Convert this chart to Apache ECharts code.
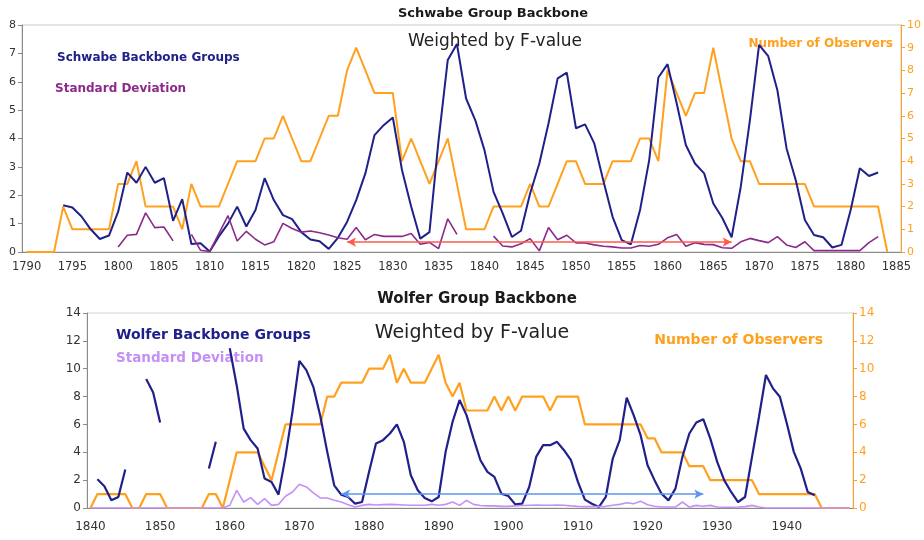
<!DOCTYPE html>
<html>
<head>
<meta charset="utf-8">
<title>Schwabe / Wolfer Group Backbone</title>
<script src="https://cdn.jsdelivr.net/npm/echarts@6/dist/echarts.min.js"></script>
<style>
	html, body { margin: 0; padding: 0; background: #fff; }
	#chart { width: 924px; height: 540px; }
</style>
</head>
<body>
<div id="chart"></div>
<script>
	// ---------- Schwabe (top panel), one value per year 1790..1885 ----------
	var schwabeYears = [];
	for (var y = 1790; y <= 1885; y++) schwabeYears.push(String(y));

	var schwabeGroups = [
		null, null, null, null, 1.65, 1.57, 1.25, 0.8, 0.46, 0.58,
		1.42, 2.8, 2.44, 3.0, 2.44, 2.6, 1.1, 1.86, 0.28, 0.31,
		0.02, 0.55, 1.0, 1.6, 0.9, 1.48, 2.6, 1.83, 1.3, 1.16,
		0.7, 0.44, 0.38, 0.11, 0.5, 1.06, 1.83, 2.77, 4.12, 4.47,
		4.74, 2.89, 1.6, 0.47, 0.7, 3.95, 6.77, 7.33, 5.41, 4.65,
		3.6, 2.12, 1.36, 0.53, 0.75, 2.07, 3.12, 4.53, 6.12, 6.32,
		4.36, 4.5, 3.83, 2.5, 1.24, 0.42, 0.27, 1.48, 3.24, 6.15,
		6.62, 5.24, 3.77, 3.12, 2.77, 1.71, 1.19, 0.52, 2.3, 4.65,
		7.3, 6.9, 5.7, 3.65, 2.54, 1.13, 0.6, 0.52, 0.16, 0.25,
		1.48, 2.95, 2.68, 2.8, null, null
	];
	var schwabeStdDev = [
		null, null, null, null, null, null, null, null, null, null,
		0.18, 0.59, 0.62, 1.38, 0.86, 0.88, 0.39, null, 0.62, 0.06,
		0.02, 0.65, 1.28, 0.39, 0.73, 0.45, 0.25, 0.36, 1.01, 0.83,
		0.7, 0.74, 0.68, 0.6, 0.5, 0.45, 0.86, 0.43, 0.62, 0.55,
		0.55, 0.55, 0.65, 0.27, 0.34, 0.12, 1.17, 0.62, null, null,
		null, 0.56, 0.21, 0.18, 0.29, 0.47, 0.04, 0.86, 0.43, 0.59,
		0.32, 0.32, 0.25, 0.2, 0.18, 0.14, 0.14, 0.23, 0.2, 0.27,
		0.5, 0.62, 0.2, 0.33, 0.27, 0.26, 0.15, 0.13, 0.36, 0.48,
		0.4, 0.33, 0.54, 0.25, 0.16, 0.36, 0.05, 0.05, 0.05, 0.05,
		0.05, 0.05, 0.33, 0.54, null, null
	];
	var schwabeObservers = [
		0, 0, 0, 0, 2, 1, 1, 1, 1, 1,
		3, 3, 4, 2, 2, 2, 2, 1, 3, 2,
		2, 2, 3, 4, 4, 4, 5, 5, 6, 5,
		4, 4, 5, 6, 6, 8, 9, 8, 7, 7,
		7, 4, 5, 4, 3, 4, 5, 3, 1, 1,
		1, 2, 2, 2, 2, 3, 2, 2, 3, 4,
		4, 3, 3, 3, 4, 4, 4, 5, 5, 4,
		8, 7, 6, 7, 7, 9, 7, 5, 4, 4,
		3, 3, 3, 3, 3, 3, 2, 2, 2, 2,
		2, 2, 2, 2, 0, null
	];
	// arrow: from year, to year, height (left axis)
	var schwabeArrow = ['1825', '1867', 0.35];

	// ---------- Wolfer (bottom panel), one value per year 1840..1949 ----------
	var wolferYears = [];
	for (var w = 1840; w <= 1949; w++) wolferYears.push(String(w));

	var wolferGroups = [
		null, 2.06, 1.56, 0.55, 0.79, 2.76, null, null, 9.26, 8.3,
		6.14, null, null, null, null, null, null, 2.83, 4.75, null,
		11.47, 8.8, 5.7, 4.87, 4.27, 2.11, 1.87, 0.96, 3.67, 6.9,
		10.56, 9.9, 8.7, 6.6, 4.03, 1.63, 0.96, 0.79, 0.31, 0.43,
		2.59, 4.63, 4.87, 5.35, 6.0, 4.75, 2.35, 1.27, 0.72, 0.48,
		0.79, 4.03, 6.19, 7.75, 6.67, 5.0, 3.43, 2.59, 2.23, 1.03,
		0.86, 0.26, 0.31, 1.51, 3.67, 4.51, 4.51, 4.75, 4.15, 3.43,
		1.87, 0.6, 0.31, 0.07, 0.79, 3.55, 4.87, 7.92, 6.67, 5.23,
		3.07, 2.0, 1.03, 0.55, 1.39, 3.67, 5.35, 6.14, 6.38, 5.0,
		3.31, 2.0, 1.15, 0.43, 0.79, 3.67, 6.55, 9.55, 8.59, 7.99,
		6.07, 4.03, 2.83, 1.15, 0.91, null, null, null, null, null
	];
	var wolferStdDev = [
		0, 0, 0, 0, 0, 0, 0, 0, 0, 0,
		0, 0, 0, 0, 0, 0, 0, 0, 0, 0,
		0.2, 1.27, 0.43, 0.74, 0.26, 0.67, 0.19, 0.26, 0.84, 1.15,
		1.7, 1.51, 1.08, 0.72, 0.72, 0.55, 0.43, 0.24, 0.07, 0.19,
		0.26, 0.22, 0.24, 0.26, 0.24, 0.22, 0.2, 0.2, 0.2, 0.26,
		0.2, 0.26, 0.43, 0.19, 0.55, 0.26, 0.18, 0.15, 0.15, 0.12,
		0.12, 0.15, 0.18, 0.2, 0.22, 0.2, 0.2, 0.22, 0.2, 0.15,
		0.12, 0.1, 0.1, 0.1, 0.12, 0.2, 0.26, 0.38, 0.31, 0.48,
		0.24, 0.12, 0.07, 0.07, 0.07, 0.43, 0.07, 0.19, 0.12, 0.19,
		0.07, 0.05, 0.05, 0.07, 0.1, 0.19, 0.07, 0, 0, 0,
		0, 0, 0, 0, 0, 0, 0, 0, 0, 0
	];
	var wolferObservers = [
		0, 1, 1, 1, 1, 1, 0, 0, 1, 1,
		1, 0, 0, 0, 0, 0, 0, 1, 1, 0,
		2, 4, 4, 4, 4, 3, 2, 4, 6, 6,
		6, 6, 6, 6, 8, 8, 9, 9, 9, 9,
		10, 10, 10, 11, 9, 10, 9, 9, 9, 10,
		11, 9, 8, 9, 7, 7, 7, 7, 8, 7,
		8, 7, 8, 8, 8, 8, 7, 8, 8, 8,
		8, 6, 6, 6, 6, 6, 6, 6, 6, 6,
		5, 5, 4, 4, 4, 4, 3, 3, 3, 2,
		2, 2, 2, 2, 2, 2, 1, 1, 1, 1,
		1, 1, 1, 1, 1, 0, 0, 0, 0, 0
	];
	var wolferArrow = ['1876', '1928', 1];

	// ---------- colours ----------
	var navy = '#20208a';
	var orange = '#ffa11f';
	var purple = '#8c2a8c';
	var lavender = '#c490f6';
	var font = '"DejaVu Sans", "Liberation Sans", sans-serif';

	function xAxisOf(gridIndex, years, labelEvery, tickEvery, tickLen, size, margin) {
		return {
			type: 'category', gridIndex: gridIndex, data: years, boundaryGap: true,
			axisLine: { lineStyle: { color: '#8a8a8a' } },
			axisTick: { interval: tickEvery, length: tickLen, lineStyle: { color: '#8a8a8a' } },
			axisLabel: { interval: labelEvery, color: '#333', fontSize: size, fontFamily: font, margin: margin }
		};
	}
	function yAxisOf(gridIndex, pos, max, step, color, labelColor, size) {
		return {
			type: 'value', gridIndex: gridIndex, position: pos, min: 0, max: max, interval: step,
			splitLine: { show: false },
			axisLine: { show: true, lineStyle: { color: color } },
			axisTick: { show: true, length: 4, lineStyle: { color: color } },
			axisLabel: { color: labelColor, fontSize: size, fontFamily: font, margin: 6 }
		};
	}
	function lineOf(name, x, y, data, color, width) {
		return {
			name: name, type: 'line', xAxisIndex: x, yAxisIndex: y, data: data,
			showSymbol: false, connectNulls: false, animation: false, silent: true,
			lineStyle: { color: color, width: width }, itemStyle: { color: color }
		};
	}
	function arrowOf(arrow, color) {
		return {
			silent: true, animation: false,
			symbol: ['arrow', 'arrow'], symbolSize: [7, 9],
			label: { show: false },
			lineStyle: { color: color, width: 1.6, type: 'solid' },
			data: [[{ coord: [arrow[0], arrow[2]] }, { coord: [arrow[1], arrow[2]] }]]
		};
	}
	function label(text, x, y, size, color, weight, align) {
		return {
			type: 'text', x: x, y: y, silent: true,
			style: {
				text: text, fill: color, textAlign: align || 'left', textVerticalAlign: 'middle',
				font: (weight || 'normal') + ' ' + size + 'px ' + font
			}
		};
	}

	var chart = echarts.init(document.getElementById('chart'));

	var topObs = lineOf('Number of Observers', 0, 1, schwabeObservers, orange, 2);
	var topGroups = lineOf('Schwabe Backbone Groups', 0, 0, schwabeGroups, navy, 2);
	var topStd = lineOf('Standard Deviation', 0, 0, schwabeStdDev, purple, 1.6);
	topStd.markLine = arrowOf(schwabeArrow, '#ff5a48');

	var botObs = lineOf('Number of Observers', 1, 3, wolferObservers, orange, 2.2);
	var botGroups = lineOf('Wolfer Backbone Groups', 1, 2, wolferGroups, navy, 2.2);
	var botStd = lineOf('Standard Deviation', 1, 2, wolferStdDev, lavender, 1.6);
	botStd.markLine = arrowOf(wolferArrow, '#5f95f2');

	chart.setOption({
		backgroundColor: '#fff',
		animation: false,
		grid: [
			{ left: 22, right: 23, top: 25, height: 227, show: true, borderColor: '#c8c8c8', borderWidth: 1 },
			{ left: 87, right: 71, top: 313, height: 195, show: true, borderColor: '#d4d4d4', borderWidth: 1 }
		],
		xAxis: [
			xAxisOf(0, schwabeYears, 4, 4, 4, 11.5, 9),
			xAxisOf(1, wolferYears, 9, 0, 3, 12, 13)
		],
		yAxis: [
			yAxisOf(0, 'left', 8, 1, '#8a8a8a', '#333', 11),
			yAxisOf(0, 'right', 10, 1, orange, orange, 11),
			yAxisOf(1, 'left', 14, 2, '#8a8a8a', '#333', 12),
			yAxisOf(1, 'right', 14, 2, orange, orange, 12)
		],
		series: [topObs, topGroups, topStd, botObs, botGroups, botStd],
		graphic: [
			label('Schwabe Group Backbone', 493, 14, 13, '#1a1a1a', 'bold', 'center'),
			label('Weighted by F-value', 495, 42, 17, '#222', 'normal', 'center'),
			label('Schwabe Backbone Groups', 57, 58, 12, navy, 'bold'),
			label('Standard Deviation', 55, 89, 12, purple, 'bold'),
			label('Number of Observers', 893, 44, 12, orange, 'bold', 'right'),

			label('Wolfer Group Backbone', 477, 299, 15, '#1a1a1a', 'bold', 'center'),
			label('Weighted by F-value', 472, 333, 19, '#222', 'normal', 'center'),
			label('Wolfer Backbone Groups', 116, 335, 14, navy, 'bold'),
			label('Standard Deviation', 116, 358, 13.5, lavender, 'bold'),
			label('Number of Observers', 823, 340, 14, orange, 'bold', 'right')
		]
	});
</script>
</body>
</html>
